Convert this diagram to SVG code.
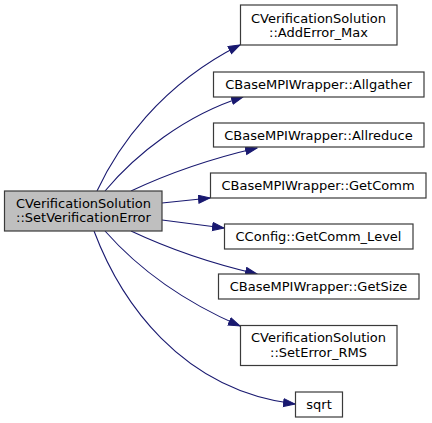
<svg xmlns="http://www.w3.org/2000/svg" width="432" height="423" viewBox="0 0 432 423">
<style>
.n rect{fill:#ffffff;stroke:#3a3a3a;stroke-width:1.2}
.n.main rect{fill:#bfbfbf}
.n text{font-family:"DejaVu Sans",sans-serif;font-size:13px;fill:#000;text-anchor:middle}
.e path{fill:none;stroke:#191970;stroke-width:1.1;marker-end:url(#ah)}
</style>
<defs>
<marker id="ah" markerUnits="userSpaceOnUse" markerWidth="14" markerHeight="11" refX="12" refY="4.5" orient="auto">
<path d="M0.5,0.5 L12,4.5 L0.5,8.5 z" fill="#191970" stroke="#191970" stroke-width="1"/>
</marker>
</defs>
<g id="edges" class="e">
<path d="M97,191 C117,148 160,85 240,45"/>
<path d="M105,191 C135,155 185,115 243,97"/>
<path d="M131,191 C165,175 205,160 257,148"/>
<path d="M162,203 L210,198"/>
<path d="M162,220 L224,228"/>
<path d="M131,231 C165,247 205,262 257,274"/>
<path d="M105,231 C135,265 180,300 240,326"/>
<path d="M94,231 C120,300 180,390 295,404"/>
</g>
<g id="node_main" class="n main">
<rect x="4.5" y="191" width="157.5" height="40"/>
<text x="83.5" y="207.5">CVerificationSolution</text>
<text x="83.5" y="221.5">::SetVerificationError</text>
</g>
<g id="node_adderrormax" class="n">
<rect x="240.5" y="5" width="156.5" height="40"/>
<text x="318.5" y="22.5">CVerificationSolution</text>
<text x="318.5" y="36.5">::AddError_Max</text>
</g>
<g id="node_allgather" class="n">
<rect x="213.5" y="72" width="210.5" height="25"/>
<text x="318.5" y="89">CBaseMPIWrapper::Allgather</text>
</g>
<g id="node_allreduce" class="n">
<rect x="213.5" y="123" width="210.5" height="24"/>
<text x="318.5" y="139.7">CBaseMPIWrapper::Allreduce</text>
</g>
<g id="node_getcomm" class="n">
<rect x="210.5" y="173" width="215.5" height="25"/>
<text x="318" y="190">CBaseMPIWrapper::GetComm</text>
</g>
<g id="node_getcommlevel" class="n">
<rect x="224.5" y="224" width="188.5" height="25"/>
<text x="318.5" y="241">CConfig::GetComm_Level</text>
</g>
<g id="node_getsize" class="n">
<rect x="218.5" y="274" width="200.5" height="25"/>
<text x="318.5" y="291">CBaseMPIWrapper::GetSize</text>
</g>
<g id="node_seterrorrms" class="n">
<rect x="240.5" y="325.5" width="156.5" height="40"/>
<text x="318.5" y="342">CVerificationSolution</text>
<text x="318.5" y="356.5">::SetError_RMS</text>
</g>
<g id="node_sqrt" class="n">
<rect x="295.5" y="392" width="47" height="25"/>
<text x="319" y="409">sqrt</text>
</g>
</svg>
